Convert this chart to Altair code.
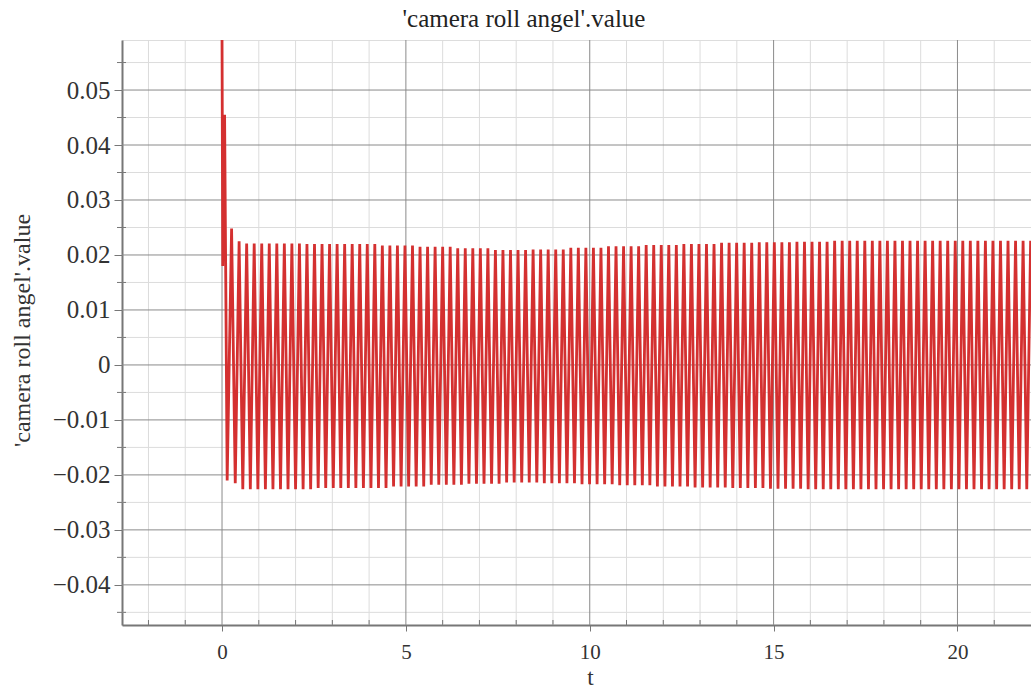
import altair as alt
import pandas as pd

# ---------------- data ----------------
start_t = [0.0, 0.02, 0.07, 0.14]
start_v = [0.0600, 0.0180, 0.0455, -0.0210]

peak_t = [
    0.26, 0.465, 0.67, 0.875, 1.08, 1.285, 1.49, 1.695, 1.90, 2.105,
    2.31, 2.515, 2.72, 2.925, 3.13, 3.335, 3.54, 3.745, 3.95, 4.155,
    4.36, 4.565, 4.77, 4.975, 5.18, 5.385, 5.59, 5.795, 6.00, 6.205,
    6.41, 6.615, 6.82, 7.025, 7.23, 7.435, 7.64, 7.845, 8.05, 8.255,
    8.46, 8.665, 8.87, 9.075, 9.28, 9.485, 9.69, 9.895, 10.10, 10.305,
    10.51, 10.715, 10.92, 11.125, 11.33, 11.535, 11.74, 11.945, 12.15, 12.355,
    12.56, 12.765, 12.97, 13.175, 13.38, 13.585, 13.79, 13.995, 14.20, 14.405,
    14.61, 14.815, 15.02, 15.225, 15.43, 15.635, 15.84, 16.045, 16.25, 16.455,
    16.66, 16.865, 17.07, 17.275, 17.48, 17.685, 17.89, 18.095, 18.30, 18.505,
    18.71, 18.915, 19.12, 19.325, 19.53, 19.735, 19.94, 20.145, 20.35, 20.555,
    20.76, 20.965, 21.17, 21.375, 21.58, 21.785, 21.99,
]
peak_v = [
    0.0248, 0.0225, 0.0221, 0.0221, 0.0221, 0.0221, 0.0221, 0.0221, 0.0221, 0.0221,
    0.0220, 0.0220, 0.0220, 0.0220, 0.0220, 0.0220, 0.0220, 0.0220, 0.0220, 0.0220,
    0.0217, 0.0217, 0.0217, 0.0217, 0.0217, 0.0215, 0.0215, 0.0215, 0.0215, 0.0215,
    0.0212, 0.0212, 0.0212, 0.0212, 0.0212, 0.0209, 0.0209, 0.0209, 0.0209, 0.0209,
    0.0210, 0.0210, 0.0210, 0.0210, 0.0210, 0.0213, 0.0213, 0.0213, 0.0213, 0.0213,
    0.0216, 0.0216, 0.0216, 0.0216, 0.0216, 0.0218, 0.0218, 0.0218, 0.0218, 0.0218,
    0.0220, 0.0220, 0.0220, 0.0220, 0.0220, 0.0222, 0.0222, 0.0222, 0.0222, 0.0222,
    0.0223, 0.0223, 0.0223, 0.0223, 0.0223, 0.0224, 0.0224, 0.0224, 0.0224, 0.0224,
    0.0226, 0.0226, 0.0226, 0.0226, 0.0226, 0.0226, 0.0226, 0.0226, 0.0226, 0.0226,
    0.0226, 0.0226, 0.0226, 0.0226, 0.0226, 0.0226, 0.0226, 0.0226, 0.0226, 0.0226,
    0.0226, 0.0226, 0.0226, 0.0226, 0.0226, 0.0226, 0.0226,
]
trough_t = [
    0.36, 0.565, 0.77, 0.975, 1.18, 1.385, 1.59, 1.795, 2.00, 2.205,
    2.41, 2.615, 2.82, 3.025, 3.23, 3.435, 3.64, 3.845, 4.05, 4.255,
    4.46, 4.665, 4.87, 5.075, 5.28, 5.485, 5.69, 5.895, 6.10, 6.305,
    6.51, 6.715, 6.92, 7.125, 7.33, 7.535, 7.74, 7.945, 8.15, 8.355,
    8.56, 8.765, 8.97, 9.175, 9.38, 9.585, 9.79, 9.995, 10.20, 10.405,
    10.61, 10.815, 11.02, 11.225, 11.43, 11.635, 11.84, 12.045, 12.25, 12.455,
    12.66, 12.865, 13.07, 13.275, 13.48, 13.685, 13.89, 14.095, 14.30, 14.505,
    14.71, 14.915, 15.12, 15.325, 15.53, 15.735, 15.94, 16.145, 16.35, 16.555,
    16.76, 16.965, 17.17, 17.375, 17.58, 17.785, 17.99, 18.195, 18.40, 18.605,
    18.81, 19.015, 19.22, 19.425, 19.63, 19.835, 20.04, 20.245, 20.45, 20.655,
    20.86, 21.065, 21.27, 21.475, 21.68, 21.885,
]
trough_v = [
    -0.0215, -0.0226, -0.0226, -0.0226, -0.0226, -0.0226, -0.0226, -0.0226, -0.0226, -0.0226,
    -0.0226, -0.0224, -0.0224, -0.0224, -0.0224, -0.0224, -0.0224, -0.0224, -0.0224, -0.0224,
    -0.0224, -0.0221, -0.0221, -0.0221, -0.0221, -0.0221, -0.0218, -0.0218, -0.0218, -0.0218,
    -0.0218, -0.0216, -0.0216, -0.0216, -0.0216, -0.0216, -0.0214, -0.0214, -0.0214, -0.0214,
    -0.0214, -0.0215, -0.0215, -0.0215, -0.0215, -0.0215, -0.0217, -0.0217, -0.0217, -0.0217,
    -0.0217, -0.0219, -0.0219, -0.0219, -0.0219, -0.0219, -0.0221, -0.0221, -0.0221, -0.0221,
    -0.0221, -0.0223, -0.0223, -0.0223, -0.0223, -0.0223, -0.0224, -0.0224, -0.0224, -0.0224,
    -0.0224, -0.0225, -0.0225, -0.0225, -0.0225, -0.0225, -0.0226, -0.0226, -0.0226, -0.0226,
    -0.0226, -0.0226, -0.0226, -0.0226, -0.0226, -0.0226, -0.0226, -0.0226, -0.0226, -0.0226,
    -0.0226, -0.0226, -0.0226, -0.0226, -0.0226, -0.0226, -0.0226, -0.0226, -0.0226, -0.0226,
    -0.0226, -0.0226, -0.0226, -0.0226, -0.0226, -0.0226,
]

x_major = [0, 5, 10, 15, 20]
x_minor = [-2, -1, 1, 2, 3, 4, 6, 7, 8, 9, 11, 12, 13, 14, 16, 17, 18, 19, 21]
y_major = [-0.04, -0.03, -0.02, -0.01, 0.0, 0.01, 0.02, 0.03, 0.04, 0.05]
y_minor = [-0.045, -0.035, -0.025, -0.015, -0.005, 0.005, 0.015, 0.025, 0.035, 0.045, 0.055]

TITLE = "'camera roll angel'.value"
X_DOMAIN = [-2.72, 22.0]
Y_DOMAIN = [-0.0473, 0.0591]

# ---------------- build table ----------------
rows = []
for t, v in zip(start_t, start_v):
    rows.append({"t": t, "v": v})
for t, v in zip(peak_t, peak_v):
    rows.append({"t": t, "v": v})
for t, v in zip(trough_t, trough_v):
    rows.append({"t": t, "v": v})
df = pd.DataFrame(rows).sort_values("t").reset_index(drop=True)

xs = alt.Scale(domain=X_DOMAIN, nice=False, zero=False)
ys = alt.Scale(domain=Y_DOMAIN, nice=False, zero=False)

FONT = "'Liberation Serif', 'Times New Roman', serif"
W, H = 909, 585

label_expr = ("datum.value == 0 ? '0' : (datum.value < 0 ? '\u2212' + format(-datum.value, '.2f')"
              " : format(datum.value, '.2f'))")

x_axis = alt.Axis(
    values=x_major, format="d", grid=False, title="t",
    domainColor="#777", domainWidth=2, tickColor="#777", tickSize=6,
    labelFont=FONT, labelFontSize=21, labelColor="#333", labelPadding=10,
    titleFont=FONT, titleFontSize=23, titleFontWeight="normal", titleColor="#333",
    titleX=468, titleY=52, titleBaseline="middle",
)
y_axis = alt.Axis(
    values=y_major, labelExpr=label_expr, grid=False, title=TITLE,
    domainColor="#777", domainWidth=2, tickColor="#777", tickSize=8,
    labelFont=FONT, labelFontSize=25, labelColor="#333", labelPadding=4,
    titleFont=FONT, titleFontSize=24, titleFontWeight="normal", titleColor="#333",
    titleX=-100, titleY=290, titleBaseline="middle",
)


def X(field):
    return alt.X(field, scale=xs, axis=x_axis)


def Y(field):
    return alt.Y(field, scale=ys, axis=y_axis)


xminor_grid = alt.Chart(pd.DataFrame({"t": x_minor})).mark_rule(
    color="#dcdcdc", strokeWidth=1
).encode(x=X("t:Q"))
yminor_grid = alt.Chart(pd.DataFrame({"v": y_minor})).mark_rule(
    color="#dcdcdc", strokeWidth=1
).encode(y=Y("v:Q"))
xmajor_grid = alt.Chart(pd.DataFrame({"t": x_major})).mark_rule(
    color="#8a8a8a", strokeWidth=1
).encode(x=X("t:Q"))
ymajor_grid = alt.Chart(pd.DataFrame({"v": y_major})).mark_rule(
    color="#8a8a8a", strokeWidth=1
).encode(y=Y("v:Q"))

xminor_ticks = alt.Chart(pd.DataFrame({"t": x_minor})).mark_rule(
    color="#777", strokeWidth=1
).encode(x=X("t:Q"), y=alt.value(H), y2=alt.value(H - 5))
yminor_ticks = alt.Chart(pd.DataFrame({"v": y_minor})).mark_rule(
    color="#777", strokeWidth=1
).encode(y=Y("v:Q"), x=alt.value(-5), x2=alt.value(4))

line = alt.Chart(df).mark_line(
    color="#d43030", strokeWidth=2.8, clip=True
).encode(x=X("t:Q"), y=Y("v:Q"))

title_text = alt.Chart(pd.DataFrame({"label": [TITLE]})).mark_text(
    font=FONT, fontSize=25, color="#222", align="center", baseline="alphabetic"
).encode(x=alt.value(402), y=alt.value(-13), text="label:N")

chart = alt.layer(
    xminor_grid, yminor_grid, xmajor_grid, ymajor_grid, xminor_ticks, yminor_ticks, line,
    title_text,
).properties(
    width=W, height=H,
    autosize=alt.AutoSizeParams(type="none"),
    padding={"left": 122, "top": 40, "right": 0, "bottom": 64},
).configure_view(stroke=None).configure(background="white")

chart.save("out.html", embed_options={"renderer": "svg", "actions": False})
